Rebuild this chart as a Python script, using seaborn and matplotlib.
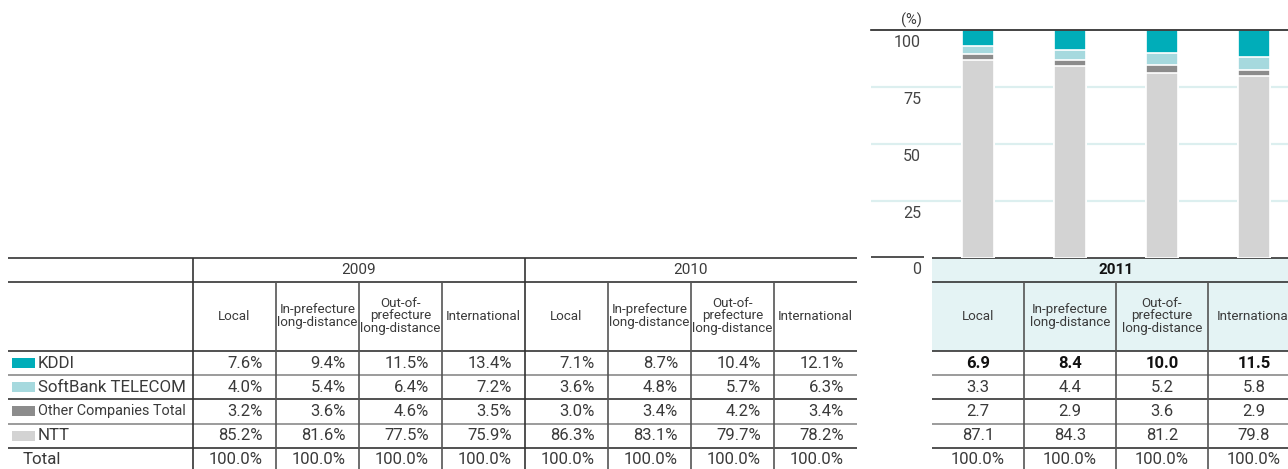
import matplotlib
matplotlib.use("Agg")
import matplotlib.pyplot as plt
import matplotlib.transforms as mtrans
from matplotlib.patches import Rectangle
import pandas as pd
import seaborn as sns

# table rows, top to bottom
companies = ["KDDI", "SoftBank TELECOM", "Other Companies Total", "NTT"]
company_colors = ["#00adb9", "#a6d9de", "#8c8c8c", "#d3d3d3"]
services = ["Local", "In-prefecture\nlong-distance", "Out-of-\nprefecture\nlong-distance", "International"]
years = ["2009", "2010", "2011"]

# market share (%) by service
kddi_2009 = [7.6, 9.4, 11.5, 13.4]
softbank_2009 = [4.0, 5.4, 6.4, 7.2]
other_2009 = [3.2, 3.6, 4.6, 3.5]
ntt_2009 = [85.2, 81.6, 77.5, 75.9]

kddi_2010 = [7.1, 8.7, 10.4, 12.1]
softbank_2010 = [3.6, 4.8, 5.7, 6.3]
other_2010 = [3.0, 3.4, 4.2, 3.4]
ntt_2010 = [86.3, 83.1, 79.7, 78.2]

kddi_2011 = [6.9, 8.4, 10.0, 11.5]
softbank_2011 = [3.3, 4.4, 5.2, 5.8]
other_2011 = [2.7, 2.9, 3.6, 2.9]
ntt_2011 = [87.1, 84.3, 81.2, 79.8]

y_ticks = [0, 25, 50, 75, 100]

sns.set_theme(style="white")
plt.rcParams["font.family"] = ["Roboto", "DejaVu Sans"]

W, H = 1288, 469
fig = plt.figure(figsize=(W / 100, H / 100), dpi=100)

# overlay axes in pixel coords for the table
tab = fig.add_axes([0, 0, 1, 1])
tab.set_xlim(0, W)
tab.set_ylim(H, 0)
tab.axis("off")

dark = "#333333"
light = "#8a8a8a"
txt = "#3a3a3a"
fs_val = 12
fs_head = 9.6
fs_year = 11

row_y = [258, 282, 351, 375, 399, 424, 448, 469]
row_line_cols = [dark, dark, dark, light, dark, light, dark]
data_rows = [(row_y[i] + row_y[i + 1]) / 2 for i in range(2, 7)]


def hline(y, x0, x1, c=dark, lw=1.2):
    tab.plot([x0, x1], [y, y], color=c, lw=lw, solid_capstyle="butt")


def vline(x, y0, y1, c="#555555", lw=1.2):
    tab.plot([x, x], [y0, y1], color=c, lw=lw, solid_capstyle="butt")


# ---- left table (2009, 2010)
left_x0, label_w, cell_w = 8, 193, 83
left_x1 = label_w + 8 * cell_w
for y, c in zip(row_y[:-1], row_line_cols):
    hline(y, left_x0, left_x1, c)
vline(label_w, 258, H, dark)
vline(label_w + 4 * cell_w, 258, H, dark)

year_data = {
    "2009": [kddi_2009, softbank_2009, other_2009, ntt_2009],
    "2010": [kddi_2010, softbank_2010, other_2010, ntt_2010],
    "2011": [kddi_2011, softbank_2011, other_2011, ntt_2011],
}

for g, yr in enumerate(years[:2]):
    gx = label_w + g * 4 * cell_w
    tab.text(gx + 2 * cell_w, 270, yr, ha="center", va="center", fontsize=fs_year, color=txt)
    for j, svc in enumerate(services):
        cx0 = gx + j * cell_w
        if j > 0:
            vline(cx0, 282, H)
        tab.text(cx0 + cell_w / 2, 316, svc, ha="center", va="center", fontsize=fs_head,
                 color=txt, linespacing=0.92)
        vals = [year_data[yr][k][j] for k in range(4)]
        for k, v in enumerate(vals):
            tab.text(cx0 + cell_w - 13, data_rows[k], f"{v:.1f}%", ha="right", va="center",
                     fontsize=fs_val, color=txt)
        tab.text(cx0 + cell_w - 13, data_rows[4] + 1, f"{sum(vals):.1f}%", ha="right",
                 va="center", fontsize=fs_val, color=txt)

# row labels with colour keys
for k, (name, col) in enumerate(zip(companies, company_colors)):
    tab.add_patch(Rectangle((12, data_rows[k] - 5), 23, 10, color=col, lw=0))
    tab.text(38, data_rows[k], name, ha="left", va="center",
             fontsize=10.4 if len(name) > 18 else 12.2, color=txt)
tab.text(23, data_rows[4] + 1, "Total", ha="left", va="center", fontsize=12.2, color=txt)

# ---- 2011 table
r_x0, r_w = 932, 92
tab.add_patch(Rectangle((r_x0, 258), 4 * r_w, 351 - 258, color="#e4f3f4", lw=0))
for y, c in zip(row_y[:-1], row_line_cols):
    hline(y, r_x0, W, c)
tab.text(r_x0 + 2 * r_w, 270, years[2], ha="center", va="center", fontsize=fs_year,
         fontweight="bold", color="#111111")
for j, svc in enumerate(services):
    cx0 = r_x0 + j * r_w
    if j > 0:
        vline(cx0, 282, H)
    tab.text(cx0 + r_w / 2, 316, svc, ha="center", va="center", fontsize=fs_head,
             color=txt, linespacing=0.92)
    vals = [year_data["2011"][k][j] for k in range(4)]
    for k, v in enumerate(vals):
        tab.text(cx0 + r_w / 2, data_rows[k], f"{v:.1f}", ha="center", va="center",
                 fontsize=fs_val, color="#111111" if k == 0 else txt,
                 fontweight="bold" if k == 0 else "normal")
    tab.text(cx0 + r_w / 2, data_rows[4] + 1, f"{sum(vals):.1f}%", ha="center",
             va="center", fontsize=fs_val, color=txt)

# axis baseline and unit label
hline(257.5, 871, 924, dark)
tab.text(922, 20, "(%)", ha="right", va="center", fontsize=10.5, color=txt)

# ---- stacked bar chart (2011)
ax_l, ax_top, ax_bot = 871, 30.5, 257.5
ax = fig.add_axes([ax_l / W, 1 - ax_bot / H, (W - ax_l) / W, (ax_bot - ax_top) / H])
ax.patch.set_alpha(0)

df = pd.DataFrame({
    "service": services,
    "NTT": ntt_2011,
    "Other Companies Total": other_2011,
    "SoftBank TELECOM": softbank_2011,
    "KDDI": kddi_2011,
})
stack = ["NTT", "Other Companies Total", "SoftBank TELECOM", "KDDI"]
cum = df[stack].cumsum(axis=1)
cum["service"] = services
col_map = dict(zip(companies, company_colors))

for y in [25, 50, 75]:
    ax.axhline(y, color="#dcefef", lw=1.6, zorder=0)

for name in reversed(stack):
    sns.barplot(data=cum, x="service", y=name, order=services, color=col_map[name],
                saturation=1, width=0.337, edgecolor="white", linewidth=1.2, ax=ax, zorder=2)

ax.set_xlim(-(978 - ax_l) / r_w, (W - 978) / r_w)
ax.set_ylim(0, 100)
ax.set_yticks(y_ticks)
ax.set_xticks([])
ax.set_xlabel("")
ax.set_ylabel("")
ax.tick_params(axis="y", length=0, pad=-36, labelsize=11.5, labelcolor="#444444")
offset = mtrans.ScaledTranslation(0, -5 / 100, fig.dpi_scale_trans)
for t in ax.yaxis.get_major_ticks():
    t.label1.set_verticalalignment("top")
    t.label1.set_transform(t.label1.get_transform() + offset)
for s in ["left", "right", "bottom"]:
    ax.spines[s].set_visible(False)
ax.spines["top"].set_color("#222222")
ax.spines["top"].set_linewidth(1.2)
ax.spines["top"].set_zorder(5)

fig.savefig("out.png", dpi=100)
